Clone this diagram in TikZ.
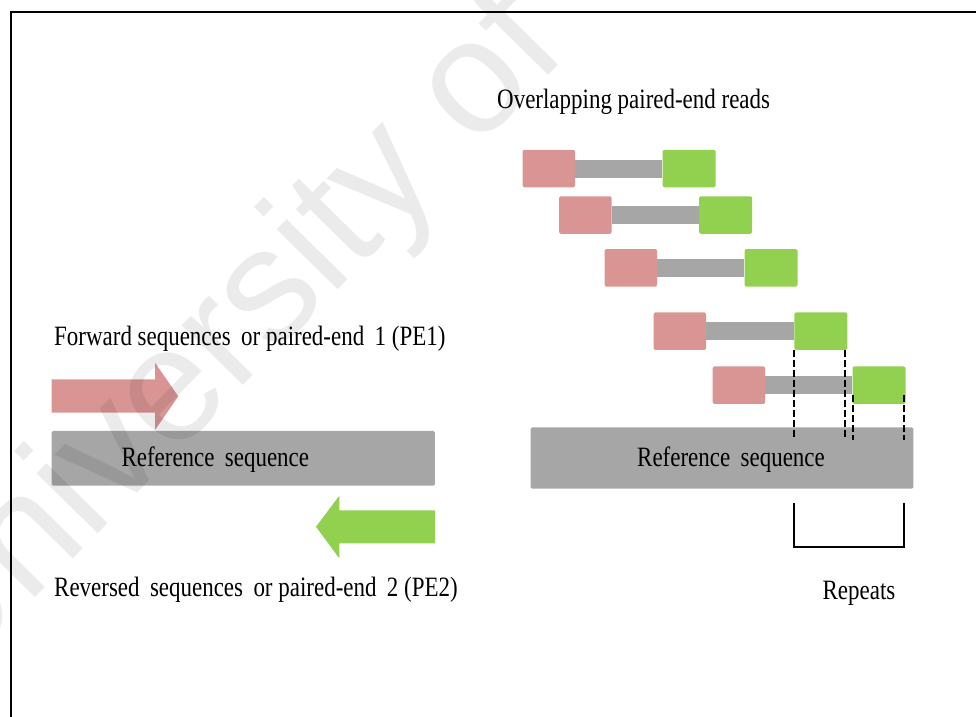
\documentclass[tikz,border=0pt]{standalone}
\usepackage{fontspec}
\setmainfont{Liberation Serif}
\newfontfamily\tnr[FakeStretch=0.82]{Liberation Serif}
\newfontfamily\wmfont{Liberation Sans}
\definecolor{pinkc}{HTML}{D99594}
\definecolor{greenc}{HTML}{92D050}
\definecolor{grayc}{HTML}{A6A6A6}
\tikzset{
  lbl/.style={font=\tnr\fontsize{28}{30}\selectfont, inner sep=0pt},
  pinkbox/.style={fill=pinkc, minimum width=52.5pt, minimum height=37.5pt, inner sep=0pt, rounded corners=1.5pt},
  greenbox/.style={fill=greenc, minimum width=53pt, minimum height=37.5pt, inner sep=0pt, rounded corners=1.5pt},
  readbar/.style={grayc, line width=18pt},
  refbar/.style={fill=grayc, inner sep=0pt, rounded corners=1.5pt},
  dashln/.style={line width=2pt, dash pattern=on 7pt off 3pt},
  brk/.style={line width=2pt}
}
\begin{document}
\begin{tikzpicture}[x=1pt,y=-1pt]
\useasboundingbox (0,0) rectangle (976,716);
\clip (0,0) rectangle (976,716);
% frame
\draw[line width=2pt] (10.5,730) -- (10.5,11.5) -- (990,11.5);

% ---------- left part ----------
\node[lbl, anchor=west] (fwdlbl) at (54,339) {Forward sequences\, or paired-end\, 1 (PE1)};
\fill[pinkc] (51.7,379.3) -- (155,379.3) -- (155,362.7) -- (178.3,396.3) -- (155,430) -- (155,412.7) -- (51.7,412.7) -- cycle;
\node[refbar, minimum width=383.3pt, minimum height=54.7pt] (refL) at (243.3,458.3) {};
\node[lbl] (refLtxt) at (215.3,459.5) {Reference\, sequence};
\fill[greenc] (435,510.3) -- (339.3,510.3) -- (339.3,495.7) -- (316,526.8) -- (339.3,558.3) -- (339.3,543.3) -- (435,543.3) -- cycle;
\node[lbl, anchor=west] (revlbl) at (54,590) {Reversed\, sequences\, or paired-end\, 2 (PE2)};

% ---------- right part ----------
\node[lbl, anchor=west] (ovlbl) at (497,102) {Overlapping paired-end reads};

\node[pinkbox] (p1) at (548.8,168.5) {};
\node[greenbox] (g1) at (689,168.5) {};
\node[pinkbox] (p2) at (585.3,215) {};
\node[greenbox] (g2) at (725.5,215) {};
\node[pinkbox] (p3) at (630.8,267.8) {};
\node[greenbox] (g3) at (771,267.8) {};
\node[pinkbox] (p4) at (679.8,331.2) {};
\node[greenbox] (g4) at (820.8,331.2) {};
\node[pinkbox] (p5) at (738.8,385.2) {};
\node[greenbox] (g5) at (879,385.2) {};
\foreach \i in {1,...,5}{\draw[readbar] (p\i.east) -- (g\i.west);}

\node[refbar, minimum width=382.6pt, minimum height=61.4pt] (refR) at (722,458) {};
\node[lbl] (refRtxt) at (731,460) {Reference\, sequence};

\coordinate (d1) at (794.3,440);
\coordinate (d2) at (844.7,440);
\coordinate (d3) at (853.3,440);
\coordinate (d4) at (903.7,440);
\draw[dashln] (g4.south west -| d1) -- (d1);
\draw[dashln] (g4.south east -| d2) -- (d2);
\draw[dashln] (853.3,395) -- (d3);
\draw[dashln] (903.7,395) -- (d4);

\coordinate (b1) at (794.3,503.3);
\coordinate (b2) at (904,503.3);
\draw[brk] (b1) -- (794.3,547.3) -- (904,547.3) -- (b2);
\node[lbl] (replbl) at (859,593) {Repeats};

% watermark
\node[font=\wmfont\fontsize{162}{162}\selectfont, text=black, text opacity=0.08, rotate=45.5, inner sep=0pt] (wm) at (228,342) {University of};
\end{tikzpicture}
\end{document}
